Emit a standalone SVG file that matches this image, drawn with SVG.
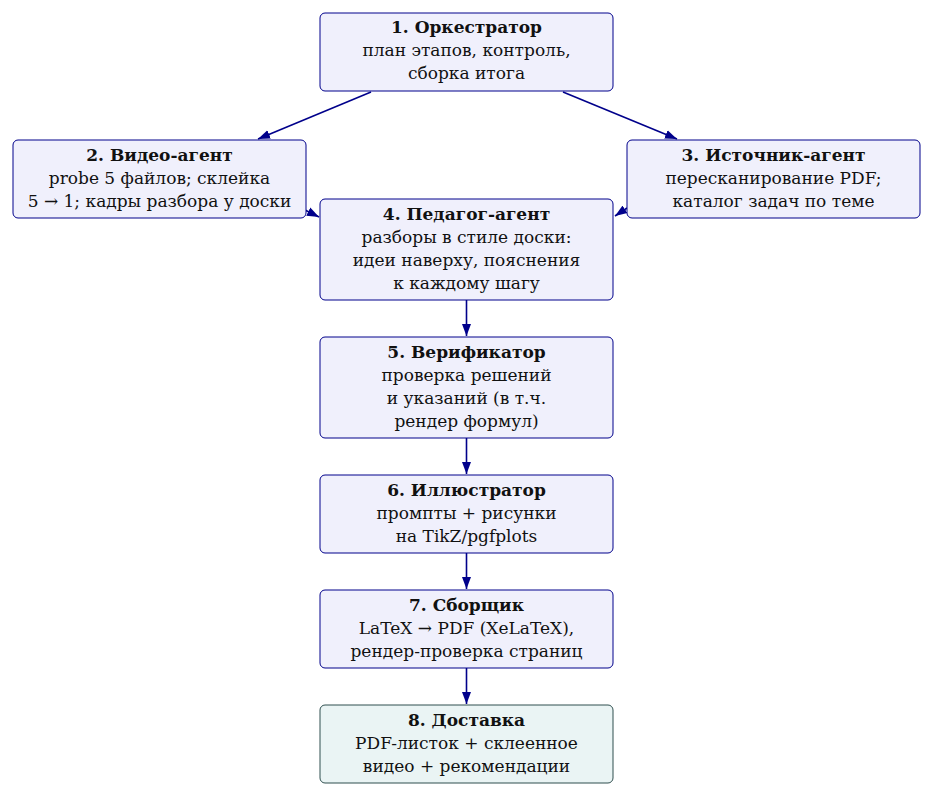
<svg xmlns="http://www.w3.org/2000/svg" width="934" height="797" viewBox="0 0 934 797">
<defs>
<marker id="ah" markerWidth="13" markerHeight="10" refX="12" refY="5" orient="auto" markerUnits="userSpaceOnUse">
<path d="M0,0.5 L12,5 L0,9.5 Z" fill="#00008b"/>
</marker>
<style>
.box{fill:#f0f0fc;stroke:#00008b;stroke-width:1}
.fin{fill:#eaf4f4;stroke:#2f4f4f;stroke-width:1}
text{font-family:"DejaVu Serif",serif;font-size:17px;fill:#111;text-anchor:middle}
.t{font-weight:bold}
.e{stroke:#00008b;stroke-width:1.6;fill:none;marker-end:url(#ah)}
</style>
</defs>
<rect width="934" height="797" fill="#fff"/>
<g id="edges">
<line class="e" x1="371" y1="92" x2="258" y2="139"/>
<line class="e" x1="563" y1="92" x2="677" y2="139"/>
<line class="e" x1="305" y1="210" x2="319" y2="217"/>
<line class="e" x1="627" y1="208" x2="615" y2="216"/>
<line class="e" x1="466.5" y1="300" x2="466.5" y2="336"/>
<line class="e" x1="466.5" y1="438" x2="466.5" y2="474"/>
<line class="e" x1="466.5" y1="553" x2="466.5" y2="589"/>
<line class="e" x1="466.5" y1="668" x2="466.5" y2="704"/>
</g>
<g id="n1">
<rect class="box" x="320" y="13" width="293" height="78" rx="5"/>
<text class="t" x="466.5" y="33">1. Оркестратор</text>
<text x="466.5" y="56">план этапов, контроль,</text>
<text x="466.5" y="79">сборка итога</text>
</g>
<g id="n2">
<rect class="box" x="13" y="140" width="293" height="78" rx="5"/>
<text class="t" x="159.5" y="161">2. Видео-агент</text>
<text x="159.5" y="184">probe 5 файлов; склейка</text>
<text x="159.5" y="207">5 → 1; кадры разбора у доски</text>
</g>
<g id="n3">
<rect class="box" x="627" y="140" width="293" height="78" rx="5"/>
<text class="t" x="773.5" y="161">3. Источник-агент</text>
<text x="773.5" y="184">пересканирование PDF;</text>
<text x="773.5" y="207">каталог задач по теме</text>
</g>
<g id="n4">
<rect class="box" x="320" y="199" width="293" height="101" rx="5"/>
<text class="t" x="466.5" y="220">4. Педагог-агент</text>
<text x="466.5" y="243">разборы в стиле доски:</text>
<text x="466.5" y="266">идеи наверху, пояснения</text>
<text x="466.5" y="289">к каждому шагу</text>
</g>
<g id="n5">
<rect class="box" x="320" y="337" width="293" height="101" rx="5"/>
<text class="t" x="466.5" y="358">5. Верификатор</text>
<text x="466.5" y="381">проверка решений</text>
<text x="466.5" y="404">и указаний (в т.ч.</text>
<text x="466.5" y="427">рендер формул)</text>
</g>
<g id="n6">
<rect class="box" x="320" y="475" width="293" height="78" rx="5"/>
<text class="t" x="466.5" y="496">6. Иллюстратор</text>
<text x="466.5" y="519">промпты + рисунки</text>
<text x="466.5" y="542">на TikZ/pgfplots</text>
</g>
<g id="n7">
<rect class="box" x="320" y="590" width="293" height="78" rx="5"/>
<text class="t" x="466.5" y="611">7. Сборщик</text>
<text x="466.5" y="634">LaTeX → PDF (XeLaTeX),</text>
<text x="466.5" y="657">рендер-проверка страниц</text>
</g>
<g id="n8">
<rect class="fin" x="320" y="705" width="293" height="78" rx="5"/>
<text class="t" x="466.5" y="726">8. Доставка</text>
<text x="466.5" y="749">PDF-листок + склеенное</text>
<text x="466.5" y="772">видео + рекомендации</text>
</g>
</svg>
